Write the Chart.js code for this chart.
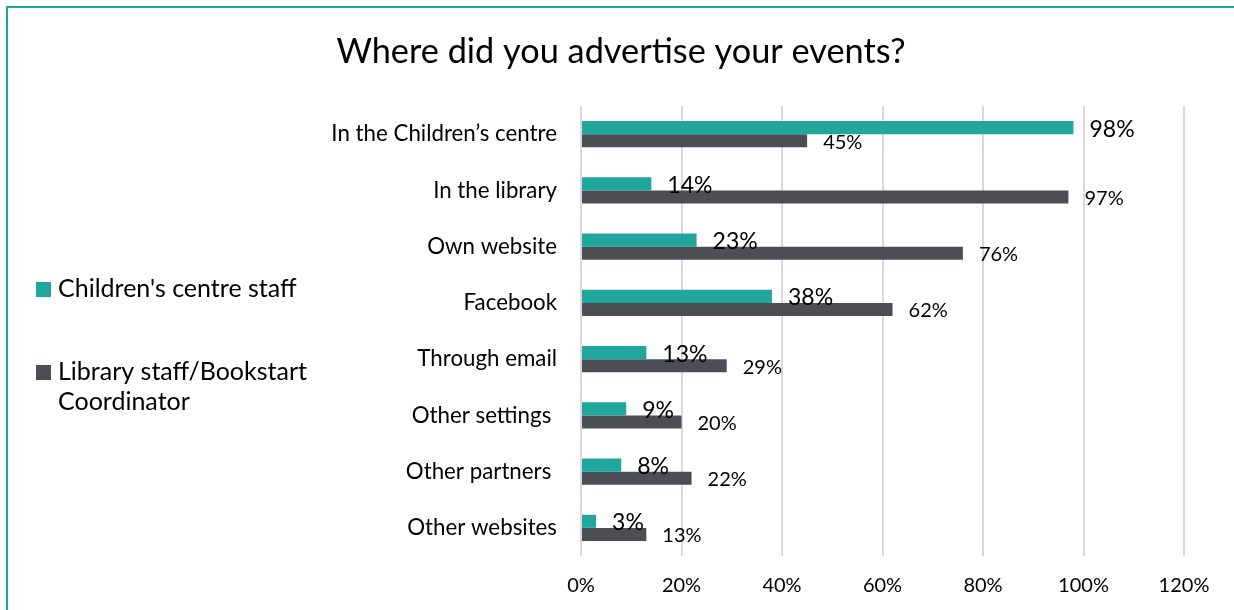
<!DOCTYPE html>
<html>
<head>
<meta charset="utf-8">
<script src="https://cdn.jsdelivr.net/npm/chart.js@4.4.0/dist/chart.umd.min.js"></script>
<style>
  html, body { margin: 0; padding: 0; background: #fff; overflow: hidden; }
  #frame {
    position: absolute; left: 6px; top: 6px; width: 1260px; height: 640px;
    border-top: 2px solid #20a69d; border-left: 2px solid #20a69d;
  }
  #chart { position: absolute; left: 0; top: 0; }
</style>
</head>
<body>
<div id="frame"></div>
<canvas id="chart" width="1234" height="610"></canvas>
<script>
// survey answers, percent of respondents
const categories = [
  "In the Children\u2019s centre",
  "In the library",
  "Own website",
  "Facebook",
  "Through email",
  "Other settings ",
  "Other partners ",
  "Other websites"
];
const centreStaff = [98, 14, 23, 38, 13, 9, 8, 3];
const libraryStaff = [45, 97, 76, 62, 29, 20, 22, 13];
const seriesNames = [["Children's centre staff"], ["Library staff/Bookstart", "Coordinator"]];
const titleText = "Where did you advertise your events?";

const TEAL = "#20a69d";
const GREY = "#4b4f54";
const FONT = "Lato, 'Open Sans', sans-serif";

// title, side legend and value labels
const decor = {
  id: "decor",
  afterDraw(chart) {
    const ctx = chart.ctx;
    ctx.save();
    ctx.fillStyle = "#000";
    ctx.textBaseline = "alphabetic";

    ctx.font = "34.3px " + FONT;
    ctx.textAlign = "center";
    ctx.fillText(titleText, 621, 63);

    // legend
    const colors = [TEAL, GREY];
    const legendBase = [297, 380];
    ctx.textAlign = "left";
    ctx.font = "25px " + FONT;
    seriesNames.forEach((lines, i) => {
      ctx.fillStyle = colors[i];
      ctx.fillRect(36, legendBase[i] - 15, 15, 15);
      ctx.fillStyle = "#000";
      lines.forEach((line, k) => ctx.fillText(line, 58, legendBase[i] + k * 30));
    });

    // value labels at bar ends
    const sizes = [23, 20];
    const drop = [9, 8];
    [centreStaff, libraryStaff].forEach((vals, i) => {
      ctx.font = sizes[i] + "px " + FONT;
      chart.getDatasetMeta(i).data.forEach((bar, j) => {
        ctx.fillText(vals[j] + "%", bar.x + 16, bar.y + drop[i]);
      });
    });
    ctx.restore();
  }
};

new Chart(document.getElementById("chart"), {
  type: "bar",
  data: {
    labels: categories,
    datasets: [
      { label: seriesNames[0].join(" "), data: centreStaff, backgroundColor: TEAL },
      { label: seriesNames[1].join(" "), data: libraryStaff, backgroundColor: GREY }
    ]
  },
  options: {
    indexAxis: "y",
    responsive: false,
    animation: false,
    devicePixelRatio: 1,
    layout: { padding: { top: 106, right: 50, bottom: 0, left: 10 } },
    datasets: { bar: { categoryPercentage: 0.465, barPercentage: 1 } },
    scales: {
      x: {
        min: 0,
        max: 120,
        afterFit(s) { s.height = 54; },
        ticks: {
          stepSize: 20,
          padding: 18,
          color: "#000",
          font: { family: FONT, size: 20 },
          callback: v => v + "%"
        },
        grid: { color: "#d9d9d9", lineWidth: 2, drawTicks: false },
        border: { display: false }
      },
      y: {
        afterFit(s) { s.width = 571; },
        ticks: { padding: 24, color: "#000", font: { family: FONT, size: 22.3 } },
        grid: { display: false, drawTicks: false },
        border: { display: false }
      }
    },
    plugins: {
      legend: { display: false },
      title: { display: false },
      tooltip: { enabled: false }
    }
  },
  plugins: [decor]
});
</script>
</body>
</html>
